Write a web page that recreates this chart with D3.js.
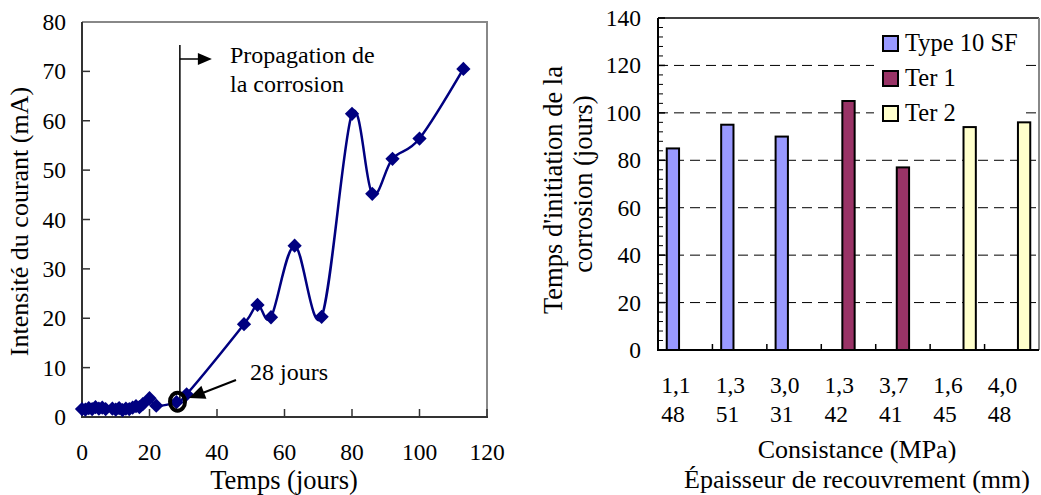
<!DOCTYPE html>
<html><head><meta charset="utf-8">
<script src="https://cdn.jsdelivr.net/npm/d3@7"></script>
<style>
html,body{margin:0;padding:0;background:#fff;}
svg{display:block;}
text{font-family:"Liberation Serif","DejaVu Serif",serif;}
</style></head>
<body>
<svg id="c" width="1041" height="495" font-family="Liberation Serif, DejaVu Serif, serif"></svg>
<script>
// ---------- Left chart data ----------
const days = [0,1,2,3,4,5,6,7,9,10,11,12,13,14,15,16,17,18,20,22,28,31,48,52,56,63,71,80,86,92,100,113];
const current = [1.6,1.5,1.8,1.6,2.0,1.7,1.9,1.6,1.7,1.5,1.8,1.4,1.7,1.6,1.9,2.2,2.0,2.6,3.8,2.3,3.0,4.6,18.8,22.7,20.2,34.7,20.3,61.4,45.2,52.3,56.4,70.5];
const leftXTicks = [0,20,40,60,80,100,120];
const leftYTicks = [0,10,20,30,40,50,60,70,80];
const initDay = 29;

// ---------- Right chart data ----------
const consistance = ["1,1","1,3","3,0","1,3","3,7","1,6","4,0"];
const recouvrement = ["48","51","31","42","41","45","48"];
const seriesNames = ["Type 10 SF","Ter 1","Ter 2"];
const seriesColors = ["#9999FF","#993366","#FFFFCC"];
const typeSF = [85,95,90,null,null,null,null];
const ter1 = [null,null,null,105,77,null,null];
const ter2 = [null,null,null,null,null,94,96];
const rightYTicks = [0,20,40,60,80,100,120,140];

const FONT = "Liberation Serif, DejaVu Serif, serif";
const svg = d3.select("#c");

// ===== Left chart =====
const L = {x0:82, x1:487, y0:417, y1:22};
const xL = d3.scaleLinear().domain([0,120]).range([L.x0,L.x1]);
const yL = d3.scaleLinear().domain([0,80]).range([L.y0,L.y1]);

const gL = svg.append("g").attr("font-family",FONT);
gL.append("path").attr("d",`M${L.x0},${L.y1}H${L.x1}V${L.y0}`).attr("fill","none").attr("stroke","#888").attr("stroke-width",2);
gL.append("line").attr("x1",L.x0).attr("x2",L.x0).attr("y1",L.y1).attr("y2",L.y0+1).attr("stroke","#333").attr("stroke-width",2);
gL.append("line").attr("x1",L.x0-1).attr("x2",L.x1+1).attr("y1",L.y0).attr("y2",L.y0).attr("stroke","#333").attr("stroke-width",2);
gL.selectAll(".ty").data(leftYTicks.filter(d=>d>0&&d<80)).join("line")
  .attr("x1",L.x0).attr("x2",L.x0+8).attr("y1",d=>yL(d)).attr("y2",d=>yL(d)).attr("stroke","#333").attr("stroke-width",1.5);
gL.selectAll(".tx").data(leftXTicks.filter(d=>d>0)).join("line")
  .attr("x1",d=>xL(d)).attr("x2",d=>xL(d)).attr("y1",L.y0).attr("y2",L.y0-8).attr("stroke","#333").attr("stroke-width",1.5);
gL.selectAll(".ly").data(leftYTicks).join("text")
  .attr("x",L.x0-16).attr("y",d=>yL(d)+8).attr("text-anchor","end").attr("font-size",23.5).text(d=>d);
gL.selectAll(".lx").data(leftXTicks).join("text")
  .attr("x",d=>xL(d)).attr("y",460).attr("text-anchor","middle").attr("font-size",23.5).text(d=>d);
gL.append("text").attr("x",284).attr("y",489).attr("text-anchor","middle").attr("font-size",26.5).text("Temps (jours)");
gL.append("text").attr("transform",`translate(28,${(L.y0+L.y1)/2+2}) rotate(-90)`).attr("text-anchor","middle").attr("font-size",26).text("Intensité du courant (mA)");

const ax = xL(initDay);
gL.append("line").attr("x1",ax).attr("x2",ax).attr("y1",45).attr("y2",yL(3.5)).attr("stroke","#000").attr("stroke-width",1.5);
gL.append("line").attr("x1",ax).attr("x2",ax+20).attr("y1",59).attr("y2",59).attr("stroke","#000").attr("stroke-width",1.5);
gL.append("path").attr("d",`M${ax+18},53L${ax+32},59L${ax+18},65Z`).attr("fill","#000");
gL.append("text").attr("x",230).attr("y",63).attr("font-size",24).text("Propagation de");
gL.append("text").attr("x",230).attr("y",92).attr("font-size",24).text("la corrosion");

const pts = days.map((d,i)=>[d,current[i]]);
const line = d3.line().x(d=>xL(d[0])).y(d=>yL(d[1])).curve(d3.curveCardinal.tension(0));
gL.append("path").datum(pts).attr("d",line).attr("fill","none").attr("stroke","#000080").attr("stroke-width",2.5);
gL.selectAll(".pt").data(pts).join("path")
  .attr("d",d3.symbol().type(d3.symbolDiamond2).size(130))
  .attr("transform",d=>`translate(${xL(d[0])},${yL(d[1])})`)
  .attr("fill","#000080");

gL.append("ellipse").attr("cx",xL(28.3)).attr("cy",yL(3.1)).attr("rx",7.5).attr("ry",9).attr("fill","none").attr("stroke","#000").attr("stroke-width",4);
gL.append("line").attr("x1",236).attr("y1",380).attr("x2",200).attr("y2",394).attr("stroke","#000").attr("stroke-width",2);
{
  const tx=189, ty=398, ang=Math.atan2(394-380,200-236);
  const len=16, w=7;
  const bx=tx-len*Math.cos(ang), by=ty-len*Math.sin(ang);
  const nx=-Math.sin(ang)*w, ny=Math.cos(ang)*w;
  gL.append("path").attr("d",`M${tx},${ty}L${bx+nx},${by+ny}L${bx-nx},${by-ny}Z`).attr("fill","#000");
}
gL.append("text").attr("x",250).attr("y",380).attr("font-size",24).text("28 jours");

// ===== Right chart =====
const R = {x0:658, x1:1039, y0:350, y1:18};
const x0R = d3.scaleBand().domain(d3.range(consistance.length)).range([R.x0,R.x1]).padding(0);
const x1R = d3.scaleBand().domain(seriesNames).range([0,x0R.bandwidth()]).paddingInner(0).paddingOuter(0.71);
const yR = d3.scaleLinear().domain([0,140]).range([R.y0,R.y1]);
const gR = svg.append("g").attr("font-family",FONT);

gR.selectAll(".g").data(rightYTicks.filter(d=>d>0&&d<140)).join("line")
  .attr("x1",R.x0).attr("x2",R.x1).attr("y1",d=>yR(d)).attr("y2",d=>yR(d))
  .attr("stroke","#000").attr("stroke-width",1).attr("stroke-dasharray","10,6");
gR.append("line").attr("x1",R.x0).attr("x2",R.x1).attr("y1",R.y1).attr("y2",R.y1).attr("stroke","#000").attr("stroke-width",1.5);
gR.append("line").attr("x1",R.x1).attr("x2",R.x1).attr("y1",R.y1).attr("y2",R.y0).attr("stroke","#888").attr("stroke-width",2);

gR.append("rect").attr("x",874).attr("y",28).attr("width",152).attr("height",98).attr("fill","#fff");

const seriesData = [typeSF, ter1, ter2];
seriesData.forEach((arr,si)=>{
  const data = arr.map((v,i)=>({i,v})).filter(d=>d.v!=null);
  gR.selectAll(".b"+si).data(data).join("rect")
    .attr("x",d=>x0R(d.i)+x1R(seriesNames[si]))
    .attr("y",d=>yR(d.v))
    .attr("width",x1R.bandwidth())
    .attr("height",d=>yR(0)-yR(d.v))
    .attr("fill",seriesColors[si]).attr("stroke","#000").attr("stroke-width",2);
});

gR.append("line").attr("x1",R.x0).attr("x2",R.x0).attr("y1",R.y1).attr("y2",R.y0+1).attr("stroke","#000").attr("stroke-width",2);
gR.append("line").attr("x1",R.x0-1).attr("x2",R.x1).attr("y1",R.y0).attr("y2",R.y0).attr("stroke","#000").attr("stroke-width",2);
gR.selectAll(".mt").data(d3.range(4,140,4).filter(d=>d%20!==0)).join("line")
  .attr("x1",R.x0).attr("x2",R.x0+5).attr("y1",d=>yR(d)).attr("y2",d=>yR(d)).attr("stroke","#000").attr("stroke-width",1);
gR.selectAll(".Mt").data(rightYTicks.filter(d=>d>0)).join("line")
  .attr("x1",R.x0).attr("x2",R.x0+7).attr("y1",d=>yR(d)).attr("y2",d=>yR(d)).attr("stroke","#000").attr("stroke-width",1.5);
gR.selectAll(".xt").data(d3.range(1,consistance.length)).join("line")
  .attr("x1",d=>x0R(d)).attr("x2",d=>x0R(d)).attr("y1",R.y0).attr("y2",R.y0-6).attr("stroke","#000").attr("stroke-width",1.5);
gR.selectAll(".yl").data(rightYTicks).join("text")
  .attr("x",R.x0-17).attr("y",d=>yR(d)+8).attr("text-anchor","end").attr("font-size",23.5).text(d=>d);
gR.selectAll(".c1").data(consistance).join("text")
  .attr("x",(d,i)=>x0R(i)+x0R.bandwidth()/2-24).attr("y",393).attr("font-size",23.5).text(d=>d);
gR.selectAll(".c2").data(recouvrement).join("text")
  .attr("x",(d,i)=>x0R(i)+x0R.bandwidth()/2-24).attr("y",422).attr("font-size",23.5).text(d=>d);
gR.append("text").attr("x",857).attr("y",458).attr("text-anchor","middle").attr("font-size",26).text("Consistance (MPa)");
gR.append("text").attr("x",857).attr("y",488).attr("text-anchor","middle").attr("font-size",26).text("Épaisseur de recouvrement (mm)");
gR.append("text").attr("transform",`translate(562,${(R.y0+R.y1)/2+6}) rotate(-90)`).attr("text-anchor","middle").attr("font-size",26.5).text("Temps d'initiation de la");
gR.append("text").attr("transform",`translate(592,${(R.y0+R.y1)/2}) rotate(-90)`).attr("text-anchor","middle").attr("font-size",26.5).text("corrosion (jours)");

seriesNames.forEach((n,i)=>{
  const y = 43 + i*35;
  gR.append("rect").attr("x",883).attr("y",y-7).attr("width",15).attr("height",15)
    .attr("fill",seriesColors[i]).attr("stroke","#000").attr("stroke-width",2);
  gR.append("text").attr("x",905).attr("y",y+8).attr("font-size",24.5).text(n);
});
</script>
</body></html>
